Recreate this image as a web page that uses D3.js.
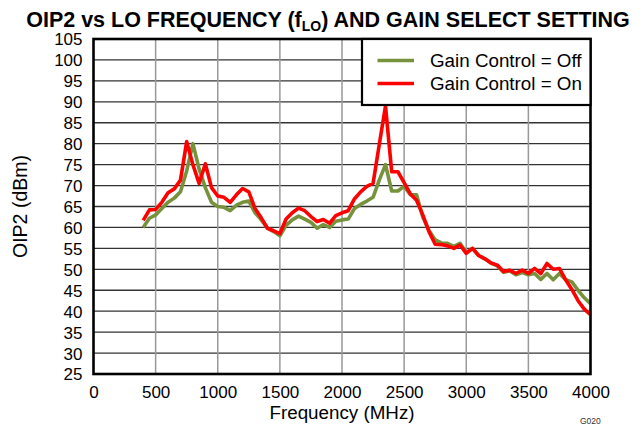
<!DOCTYPE html>
<html><head><meta charset="utf-8">
<script src="https://cdn.jsdelivr.net/npm/d3@7"></script>
<style>
html,body{margin:0;padding:0;background:#fff;}
text{font-family:Arial,"Liberation Sans",sans-serif;}
</style></head>
<body><svg id="c" width="644" height="426"></svg>
<script>
const freqMHz = d3.range(400, 4001, 50);
const gainOff = [60,62.2,63,64.5,66,67,68.5,73.5,80,74,69.5,66,65,64.8,64,65.3,66,66.3,63.5,61.8,59.8,59,58,60.5,61.8,62.7,62,61.2,59.8,60.7,60,61.5,61.8,62,64.5,65.5,66.3,67.2,71.3,75,68.7,68.7,69.8,67.8,67.8,62.5,59.3,57,56.3,56.2,55.5,56.2,54,55,53.3,52.5,51.5,50.8,49.3,49.6,48.7,49.2,48.7,49,47.6,49,47.5,49,47.5,47,45,43.2,41.8];
const gainOn = [61.7,64.2,64.3,66,68.3,69.2,71.3,80.5,75,70.5,75.2,69.5,67.5,67.2,66,67.8,69.3,68.5,64.5,62.3,59.8,59.2,58.5,62,63.5,64.6,64,62.6,61.4,61.9,61,62.8,63.5,64,66.8,68.5,69.8,70.5,79.8,89,73.3,73.3,70.7,68,66.5,63,59,56,55.9,55.6,55,55.8,53.8,55,53.3,52.5,51.5,51,49.5,49.8,49,49.8,49,50.2,49,51.4,50,50.2,47.5,45.2,42.5,40.5,39.2];
const xTicks = [0,500,1000,1500,2000,2500,3000,3500,4000];
const yTicks = d3.range(25, 106, 5);
const seriesNames = ["Gain Control = Off","Gain Control = On"];
const seriesColors = ["#76923C","#FF0000"];

const svg = d3.select("#c");
const L=93.5, R=590.5, T=39, B=374;
const x = d3.scaleLinear().domain([0,4000]).range([L,R]);
const y = d3.scaleLinear().domain([25,105]).range([B,T]);

// grid
svg.append("g").selectAll("line").data(yTicks.slice(1,-1)).join("line")
  .attr("x1",L).attr("x2",R).attr("y1",d=>y(d)).attr("y2",d=>y(d))
  .attr("stroke","#333").attr("stroke-width",1.3);
svg.append("g").selectAll("line").data(xTicks.slice(1,-1)).join("line")
  .attr("y1",T).attr("y2",B).attr("x1",d=>x(d)).attr("x2",d=>x(d))
  .attr("stroke","#999").attr("stroke-width",1.5);

// axes labels
const ax = svg.append("g").attr("transform",`translate(0,${B})`)
  .call(d3.axisBottom(x).tickValues(xTicks).tickSize(0).tickPadding(0).tickFormat(d3.format("d")));
ax.select(".domain").remove();
ax.selectAll("text").attr("dy",null).attr("y",24).attr("font-size",17).attr("fill","#000").attr("font-family","Arial, 'Liberation Sans'");
const ay = svg.append("g").attr("transform",`translate(${L},0)`)
  .call(d3.axisLeft(y).tickValues(yTicks).tickSize(0).tickPadding(0));
ay.select(".domain").remove();
ay.selectAll("text").attr("x",-11).attr("dy","0.35em").attr("font-size",17).attr("fill","#000").attr("font-family","Arial, 'Liberation Sans'");

// lines
const line = d3.line().x((d,i)=>x(freqMHz[i])).y(d=>y(d));
[gainOff, gainOn].forEach((s,k)=>{
  svg.append("path").datum(s).attr("d",line).attr("fill","none")
    .attr("stroke",seriesColors[k]).attr("stroke-width",3.6).attr("stroke-linejoin","round");
});

// frame
svg.append("rect").attr("x",L).attr("y",T).attr("width",R-L).attr("height",B-T)
  .attr("fill","none").attr("stroke","#000").attr("stroke-width",2.6);

// legend
const lg = svg.append("g");
lg.append("rect").attr("x",362).attr("y",T).attr("width",R-362).attr("height",66)
  .attr("fill","#fff").attr("stroke","#000").attr("stroke-width",2.2);
seriesNames.forEach((n,k)=>{
  const yy = 60.5 + k*23;
  lg.append("line").attr("x1",377.5).attr("x2",414).attr("y1",yy).attr("y2",yy)
    .attr("stroke",seriesColors[k]).attr("stroke-width",3.6);
  lg.append("text").attr("x",430).attr("y",yy+6.8).attr("font-size",18.8).text(n);
});

// titles
const t = svg.append("text").attr("x",328).attr("y",27).attr("text-anchor","middle")
  .attr("font-size",21.5).attr("font-weight","bold");
t.append("tspan").text("OIP2 vs LO FREQUENCY (f");
t.append("tspan").attr("font-size",14).attr("dy",4).text("LO");
t.append("tspan").attr("dy",-4).text(") AND GAIN SELECT SETTING");

svg.append("text").attr("x",342).attr("y",419).attr("text-anchor","middle")
  .attr("font-size",18.8).text("Frequency (MHz)");
svg.append("text").attr("transform",`translate(27,${(T+B)/2}) rotate(-90)`)
  .attr("text-anchor","middle").attr("font-size",19.5).text("OIP2 (dBm)");
svg.append("text").attr("x",580).attr("y",424).attr("font-size",8.5).attr("fill","#333").text("G020");
</script></body></html>
